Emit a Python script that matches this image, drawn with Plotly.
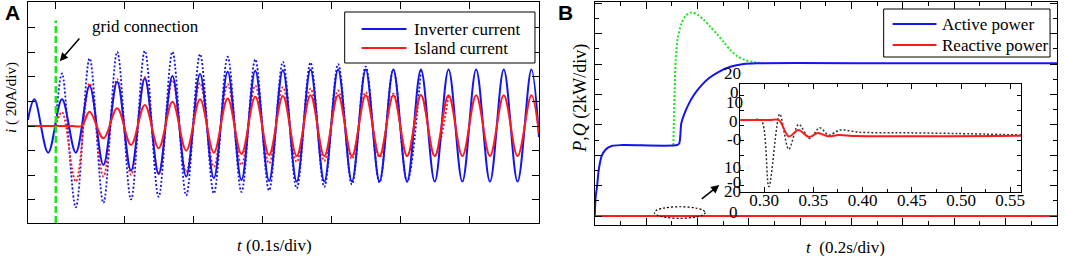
import plotly.graph_objects as go

W, H = 1065, 256
BLUE = "#1414f0"
RED = "#ff1a1a"
GREEN = "#19e619"
SERIF = "Liberation Serif"
SANS = "Liberation Sans"

# ---------------- Panel A : currents (A, time in s) ----------------
# times of the successive extrema (peak, trough, peak, ...)
ext_t = [-0.031, -0.011, 0.009, 0.029, 0.049, 0.069, 0.089, 0.109, 0.129, 0.149,
         0.169, 0.189, 0.209, 0.229, 0.249, 0.269, 0.289, 0.309, 0.329, 0.349,
         0.369, 0.389, 0.409, 0.429, 0.449, 0.469, 0.489, 0.509, 0.529, 0.549,
         0.569, 0.589, 0.609, 0.629, 0.649, 0.669, 0.689]

inv_t = [-0.0404] + ext_t + [0.700]
inv_i = [5.0,
         21.7, -21.7, 21.7, -21.7, 32.5, -31.7, 36.0, -36.3, 38.8, -39.0,
         40.7, -41.2, 42.3, -42.5, 44.1, -43.9, 45.0, -44.7, 45.5, -45.3,
         46.0, -45.3, 46.0, -45.3, 46.0, -45.3, 46.0, -45.3, 46.0, -45.3,
         46.0, -45.3, 46.0, -45.3, 46.0, -45.3, 46.0,
         -9.0]

inv_ref_t = [0.0] + ext_t[2:29]
inv_ref_i = [3.0,
             42.8, -66.3, 55.0, -62.6, 60.4, -59.8, 61.2, -57.7, 60.4, -56.5,
             58.5, -54.9, 56.4, -53.7, 54.2, -52.4, 52.3, -50.8, 51.6, -49.6,
             50.4, -47.6, 48.4, -45.9, 46.0, -45.3, 46.0]

isl_t = [-0.0404, 0.025, 0.0375] + ext_t[4:] + [0.700]
isl_i = [0.0, 0.0, 0.0,
         11.6, -10.0, 14.4, -15.4, 17.1, -18.1, 19.8, -20.1, 21.7, -21.7,
         22.5, -22.8, 23.8, -23.6, 24.4, -24.4,
         25.0, -24.5, 25.0, -24.5, 25.0, -24.5, 25.0, -24.5, 25.0, -24.5,
         25.0, -24.5, 25.0, -24.5, 25.0, -24.5, 25.0,
         -6.0]

isl_ref_t = [0.0] + ext_t[2:31]
isl_ref_i = [0.0,
             11.4, -45.3, 34.7, -41.2, 38.2, -39.8, 39.8, -39.0, 37.4, -37.4,
             35.0, -33.3, 34.1, -31.7, 32.9, -30.5, 31.7, -29.3, 30.5, -28.5,
             28.9, -26.8, 27.6, -25.6, 26.4, -24.4, 25.2, -24.5, 25.0]

a_xticks = [0.0, 0.1, 0.2, 0.3, 0.4, 0.5, 0.6, 0.7]
a_yticks = [-60, -40, -20, 0, 20, 40, 60, 80]
grid_conn_t = 0.0
legend_a = ["Inverter current", "Island current"]

# ---------------- Panel B : powers (kW, time in s) ----------------
p_t = [0.0, 0.0039, 0.0089, 0.0155, 0.0271, 0.0426, 0.0658, 0.108, 0.321, 0.329,
       0.337, 0.347, 0.367, 0.386, 0.411, 0.444, 0.483, 0.528, 0.580, 0.631, 1.2, 1.8]
p_kw = [0.0, 1.32, 1.93, 3.03, 3.95, 4.38, 4.61, 4.67, 4.67, 4.78,
        6.10, 6.64, 7.41, 7.96, 8.51, 9.06, 9.49, 9.82, 10.0, 10.05, 10.05, 10.05]

p_ref_t = [0.306, 0.308, 0.311, 0.315, 0.323, 0.337, 0.353, 0.373, 0.399, 0.425,
           0.450, 0.476, 0.502, 0.528, 0.554, 0.585, 0.618, 0.657]
p_ref_kw = [4.67, 6.3, 8.3, 10.26, 11.7, 12.63, 13.16, 13.38, 13.26, 12.9,
            12.45, 11.97, 11.45, 10.92, 10.53, 10.26, 10.13, 10.05]

q_t = [0.0, 1.8]
q_kw = [0.0, 0.0]
legend_b = ["Active power", "Reactive power"]

# inset (reactive power around the connection)
ins_q_t = [0.2757, 0.305, 0.3149, 0.3250, 0.3349, 0.3455, 0.3547, 0.3648, 0.3759, 0.3941, 0.5611]
ins_q = [0.0, 0.0, 0.0, -8.25, -5.0, -8.5, -6.5, -8.15, -7.5, -8.0, -7.85]
ins_qref_t = [0.2757, 0.2879, 0.2970, 0.3048, 0.3159, 0.3250, 0.3351, 0.3461, 0.3564,
              0.3655, 0.3772, 0.3972, 0.4346, 0.4953, 0.5611]
ins_qref = [0.0, 0.0, 0.0, -33.35, 3.0, -14.65, -2.15, -9.25, -3.85,
            -7.5, -5.0, -6.15, -6.35, -6.75, -7.5]
inset_ylabels = [("20", 735, 73), ("0", 737, 92), ("10", 737, 102), ("0", 736, 121),
                 ("-0", 737, 139), ("10", 735, 167), ("-0", 737, 182), ("20", 735, 191),
                 ("0", 736, 212)]


def px(x):
    return x / W


def py(y):
    return 1 - y / H


fig = go.Figure()

# Panel A traces
fig.add_trace(go.Scatter(x=inv_ref_t, y=inv_ref_i, xaxis="x", yaxis="y", mode="lines",
                         line=dict(color=BLUE, width=1.8, dash="2px,2px", shape="spline", smoothing=1),
                         hoverinfo="skip", showlegend=False))
fig.add_trace(go.Scatter(x=isl_ref_t, y=isl_ref_i, xaxis="x", yaxis="y", mode="lines",
                         line=dict(color=RED, width=1.8, dash="2px,2px", shape="spline", smoothing=1),
                         hoverinfo="skip", showlegend=False))
fig.add_trace(go.Scatter(x=inv_t, y=inv_i, xaxis="x", yaxis="y", mode="lines", name=legend_a[0],
                         line=dict(color=BLUE, width=2, shape="spline", smoothing=1),
                         hoverinfo="skip", showlegend=False))
fig.add_trace(go.Scatter(x=isl_t, y=isl_i, xaxis="x", yaxis="y", mode="lines", name=legend_a[1],
                         line=dict(color=RED, width=2, shape="spline", smoothing=1),
                         hoverinfo="skip", showlegend=False))

# Panel B traces
fig.add_trace(go.Scatter(x=p_ref_t, y=p_ref_kw, xaxis="x2", yaxis="y2", mode="lines",
                         line=dict(color=GREEN, width=2, dash="2px,2px", shape="spline", smoothing=0.8),
                         hoverinfo="skip", showlegend=False))
fig.add_trace(go.Scatter(x=p_t, y=p_kw, xaxis="x2", yaxis="y2", mode="lines", name=legend_b[0],
                         line=dict(color=BLUE, width=2, shape="spline", smoothing=0.8),
                         hoverinfo="skip", showlegend=False))
fig.add_trace(go.Scatter(x=q_t, y=q_kw, xaxis="x2", yaxis="y2", mode="lines", name=legend_b[1],
                         line=dict(color=RED, width=2),
                         hoverinfo="skip", showlegend=False))

# Inset traces
fig.add_trace(go.Scatter(x=ins_qref_t, y=ins_qref, xaxis="x3", yaxis="y3", mode="lines",
                         line=dict(color="#333333", width=1.5, dash="2px,2px", shape="spline", smoothing=0.9),
                         hoverinfo="skip", showlegend=False))
fig.add_trace(go.Scatter(x=ins_q_t, y=ins_q, xaxis="x3", yaxis="y3", mode="lines",
                         line=dict(color=RED, width=2, shape="spline", smoothing=0.9),
                         hoverinfo="skip", showlegend=False))

axis_common = dict(showgrid=False, zeroline=False, showline=True, linecolor="black", linewidth=1,
                   mirror="ticks", ticks="inside", tickcolor="black", tickwidth=1)

fig.update_layout(
    width=W, height=H, margin=dict(l=0, r=0, t=0, b=0),
    paper_bgcolor="white", plot_bgcolor="white", showlegend=False,
    font=dict(family=SERIF, color="black"),
    xaxis=dict(domain=[px(28), px(541)], range=[-0.0404, 0.700], tickmode="array", tickvals=a_xticks,
               ticklen=7, showticklabels=False, anchor="y", **axis_common),
    yaxis=dict(domain=[py(223), py(2)], range=[-79, 101], tickmode="array", tickvals=a_yticks,
               ticklen=7, showticklabels=False, anchor="x", **axis_common),
    xaxis2=dict(domain=[px(597), px(1061)], range=[0, 1.8], tick0=0, dtick=0.2, ticklen=7,
                minor=dict(dtick=0.1, ticklen=4, ticks="inside", tickcolor="black"),
                showticklabels=False, anchor="y2", **axis_common),
    yaxis2=dict(domain=[py(225), py(2)], range=[-0.59, 14.08], tick0=0, dtick=2, ticklen=7,
                minor=dict(dtick=1, ticklen=4, ticks="inside", tickcolor="black"),
                showticklabels=False, anchor="x2", **axis_common),
    xaxis3=dict(domain=[px(743), px(1025)], range=[0.2757, 0.5611], tick0=0, dtick=0.05, ticklen=5,
                tickformat=".2f", ticklabelstandoff=-7,
                minor=dict(dtick=0.025, ticklen=3, ticks="inside", tickcolor="black"),
                tickfont=dict(family=SERIF, size=17, color="black"), anchor="y3", **axis_common),
    yaxis3=dict(domain=[py(192), py(84)], range=[-36, 18], tick0=5, dtick=7.5, ticklen=4,
                showticklabels=False, anchor="x3", **axis_common),
)

shapes = []
# grid connection marker
shapes.append(dict(type="line", xref="x", yref="y", x0=grid_conn_t, x1=grid_conn_t, y0=-79, y1=86,
                   line=dict(color=GREEN, width=2.5, dash="7px,3px")))
# legend boxes
shapes.append(dict(type="rect", xref="paper", yref="paper", x0=px(346), x1=px(537), y0=py(63), y1=py(12),
                   line=dict(color="black", width=1), fillcolor="white"))
shapes.append(dict(type="rect", xref="paper", yref="paper", x0=px(887), x1=px(1054), y0=py(57), y1=py(9),
                   line=dict(color="black", width=1), fillcolor="white"))
for yy, col in [(29, BLUE), (48, RED)]:
    shapes.append(dict(type="line", xref="paper", yref="paper", x0=px(363), x1=px(408), y0=py(yy), y1=py(yy),
                       line=dict(color=col, width=2)))
for yy, col in [(24, BLUE), (45, RED)]:
    shapes.append(dict(type="line", xref="paper", yref="paper", x0=px(896), x1=px(940), y0=py(yy), y1=py(yy),
                       line=dict(color=col, width=2)))
# dotted ellipse around the connection instant
shapes.append(dict(type="circle", xref="x2", yref="y2", x0=0.232, x1=0.43, y0=-0.15, y1=0.61,
                   line=dict(color="black", width=1.2, dash="2px,2px")))
fig.update_layout(shapes=shapes)

ann = []


def text(t, x, y, size=17, family=SERIF, angle=0, xanchor="center", bold=False):
    ann.append(dict(text=("<b>%s</b>" % t) if bold else t, x=px(x), y=py(y), xref="paper", yref="paper",
                    showarrow=False, xanchor=xanchor, yanchor="middle", textangle=angle,
                    font=dict(family=family, size=size, color="black")))


text("A", 13, 12, size=21, family=SANS, bold=True)
text("B", 568, 12, size=21, family=SANS, bold=True)
text("grid connection", 146, 26, size=17)
text(legend_a[0], 414, 29, size=17, xanchor="left")
text(legend_a[1], 414, 48, size=17, xanchor="left")
text(legend_b[0], 944, 24, size=17, xanchor="left")
text(legend_b[1], 944, 45, size=17, xanchor="left")
text("<i>i</i> ( 20A/div)", 11, 97, size=15, angle=-90)
text("<i>t</i> (0.1s/div)", 276, 245, size=17)
text("<i>P</i>,<i>Q</i> (2kW/div)", 582, 98, size=18, angle=-90)
text("<i>t</i>\u00a0 (0.2s/div)", 849, 247, size=17)
for lab, lx, ly in inset_ylabels:
    text(lab, lx, ly, size=17)

# arrows
ann.append(dict(text="", x=0.0058, y=52.8, xref="x", yref="y", ax=0.0361, ay=72.4, axref="x", ayref="y",
                showarrow=True, arrowhead=2, arrowsize=1.1, arrowwidth=1.5, arrowcolor="black"))
ann.append(dict(text="", x=0.485, y=2.04, xref="x2", yref="y2", ax=0.411, ay=1.05, axref="x2", ayref="y2",
                showarrow=True, arrowhead=2, arrowsize=1.1, arrowwidth=1.5, arrowcolor="black"))
fig.update_layout(annotations=ann)

fig.write_html("out.html", config={"displayModeBar": False},
               post_script="document.body.style.margin='0';document.body.style.overflow='hidden';")
